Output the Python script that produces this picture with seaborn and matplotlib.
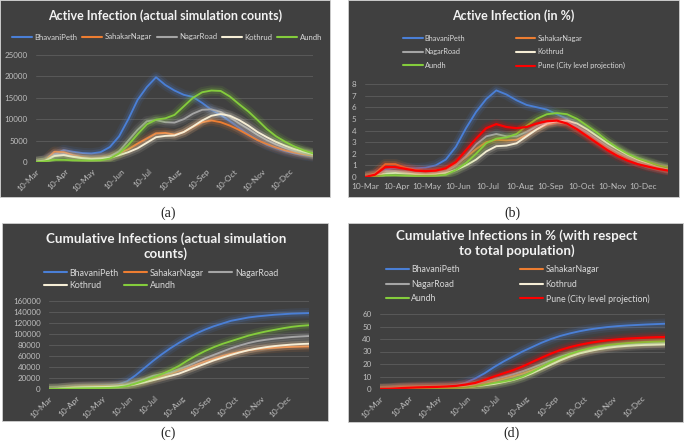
import numpy as np
import pandas as pd
import matplotlib
matplotlib.use("Agg")
import matplotlib.pyplot as plt
import matplotlib.dates as mdates
import matplotlib.patheffects as pe
from matplotlib.patches import Rectangle
import seaborn as sns

# sample dates: every 10 days from 10-Mar
dates = pd.date_range("2020-03-10", periods=31, freq="10D")
month_ticks = pd.date_range("2020-03-10", periods=10, freq=pd.DateOffset(months=1))

regions = ["BhavaniPeth", "SahakarNagar", "NagarRoad", "Kothrud", "Aundh"]
pune_label = "Pune (City level projection)"

# (a) active infections, counts
act_bhavani = [0, 500, 1800, 2800, 2400, 2100, 2000, 2300, 3500, 6000, 10000, 14500, 17500, 19800, 18000,
               16700, 15700, 15200, 13800, 12200, 11000, 9500, 8000, 6500, 5200, 4000, 3200, 2500, 2000, 1600, 1300]
act_sahakar = [0, 400, 2400, 2300, 1600, 1100, 900, 1000, 1300, 2000, 3000, 4300, 5500, 6700, 6800,
               6400, 7000, 8200, 9300, 9700, 9300, 8500, 7500, 6300, 5100, 4200, 3400, 2700, 2200, 1800, 1500]
act_nagar = [0, 300, 1700, 1800, 1300, 900, 800, 900, 1300, 2500, 5000, 7500, 9500, 9800, 9300,
             9200, 10000, 11300, 12200, 12300, 11700, 10500, 9000, 7700, 6300, 5100, 4100, 3300, 2600, 2100, 1700]
act_kothrud = [0, 300, 1400, 1600, 1200, 900, 700, 800, 1000, 1600, 2300, 3200, 4500, 5800, 6100,
               6200, 7000, 8300, 9700, 10800, 11200, 10800, 9800, 8500, 7000, 5800, 4700, 3800, 3000, 2400, 1900]
act_aundh = [0, 200, 500, 500, 400, 350, 350, 400, 800, 2000, 4000, 6500, 8800, 9900, 10200,
             11000, 13000, 15000, 16300, 16700, 16600, 15300, 13500, 11800, 9800, 7700, 6000, 4700, 3600, 2700, 2000]

# (b) active infections, %
pct_bhavani = [0, 0.2, 0.6, 0.8, 0.8, 0.75, 0.8, 1.0, 1.5, 2.6, 4.2, 5.6, 6.7, 7.45, 7.1,
               6.6, 6.2, 6.0, 5.8, 5.4, 5.0, 4.3, 3.7, 3.1, 2.5, 2.0, 1.6, 1.3, 1.0, 0.8, 0.6]
pct_sahakar = [0, 0.3, 1.1, 1.1, 0.8, 0.6, 0.5, 0.55, 0.7, 1.1, 1.7, 2.4, 3.0, 3.2, 3.15,
               3.2, 3.6, 4.1, 4.5, 4.7, 4.6, 4.1, 3.6, 3.0, 2.5, 2.0, 1.6, 1.3, 1.0, 0.8, 0.6]
pct_nagar = [0, 0.2, 0.5, 0.5, 0.45, 0.35, 0.3, 0.35, 0.5, 1.0, 1.8, 2.8, 3.5, 3.7, 3.5,
             3.5, 3.9, 4.4, 4.7, 4.8, 4.7, 4.3, 3.8, 3.2, 2.6, 2.1, 1.7, 1.3, 1.05, 0.85, 0.7]
pct_kothrud = [0, 0.1, 0.3, 0.35, 0.3, 0.25, 0.2, 0.25, 0.35, 0.6, 1.0, 1.5, 2.2, 2.65, 2.7,
               2.9, 3.5, 4.1, 4.6, 4.8, 4.85, 4.6, 4.1, 3.5, 2.9, 2.4, 1.9, 1.5, 1.2, 0.95, 0.75]
pct_aundh = [0, 0.05, 0.15, 0.15, 0.12, 0.1, 0.1, 0.12, 0.2, 0.6, 1.2, 2.0, 2.9, 3.3, 3.4,
             3.7, 4.4, 5.0, 5.4, 5.5, 5.4, 5.0, 4.4, 3.8, 3.1, 2.5, 2.0, 1.6, 1.3, 1.0, 0.8]
pct_pune = [0, 0.2, 0.85, 0.85, 0.7, 0.55, 0.5, 0.55, 0.75, 1.3, 2.3, 3.3, 4.2, 4.55, 4.3,
            4.2, 4.3, 4.6, 4.8, 4.85, 4.6, 4.1, 3.5, 2.9, 2.3, 1.8, 1.4, 1.1, 0.9, 0.7, 0.55]

# (c) cumulative infections, counts
cum_bhavani = [0, 500, 2000, 3500, 4500, 5200, 6000, 6800, 8500, 14000, 25000, 38000, 51000, 63000, 74000,
               84000, 93000, 101000, 108000, 114000, 119000, 124000, 127000, 130000, 132000, 133500, 135000,
               136000, 137000, 137500, 138000]
cum_sahakar = [0, 400, 2500, 4000, 4600, 5000, 5400, 5800, 6500, 8000, 10500, 14000, 18500, 23500, 28000,
               33000, 38000, 44000, 50000, 55000, 60000, 64000, 67500, 70500, 72500, 74000, 75000,
               76000, 76600, 77000, 77300]
cum_nagar = [0, 300, 1800, 3000, 3500, 3900, 4200, 4600, 5500, 8000, 12500, 18000, 24000, 27000, 30000,
             36000, 42000, 49000, 56000, 62000, 68000, 74000, 79000, 83500, 87000, 89500, 91500,
             93000, 94500, 95500, 96300]
cum_kothrud = [0, 300, 1500, 2500, 3000, 3300, 3600, 3900, 4500, 6000, 8500, 12000, 16000, 20000, 24000,
               28000, 34000, 40000, 46000, 52000, 57000, 62000, 66500, 70500, 73500, 76000, 78000,
               79500, 80800, 81700, 82300]
cum_aundh = [0, 200, 600, 1000, 1300, 1500, 1700, 2000, 3000, 5500, 10000, 15000, 21000, 27000, 34000,
             42000, 52000, 61000, 69000, 76000, 82000, 87000, 92000, 97000, 101000, 104500, 107500,
             110500, 113000, 114800, 116000]

# (d) cumulative infections, % of population
cpc_bhavani = [0, 0.3, 0.8, 1.3, 1.6, 1.8, 2.0, 2.3, 3.0, 5.0, 8.3, 12.5, 17.5, 22, 26,
               30, 33.5, 37, 40, 42.5, 44.5, 46.2, 47.6, 48.7, 49.6, 50.3, 50.8, 51.2, 51.6, 51.9, 52.2]
cpc_sahakar = [0, 0.3, 1.2, 1.6, 1.8, 1.9, 2.0, 2.1, 2.3, 2.8, 3.6, 4.8, 6.3, 8.3, 10.2,
               12.3, 15, 18, 21.2, 24.2, 27, 29.3, 31.2, 32.8, 34, 34.9, 35.6, 36.1, 36.5, 36.8, 37]
cpc_nagar = [0, 0.2, 0.6, 0.9, 1.0, 1.1, 1.2, 1.4, 1.8, 2.6, 4.0, 5.8, 7.8, 9.8, 11.8,
             14.2, 17, 20, 23, 25.8, 28.3, 30.3, 32, 33.3, 34.3, 35.1, 35.7, 36.2, 36.6, 36.9, 37.1]
cpc_kothrud = [0, 0.1, 0.4, 0.6, 0.7, 0.8, 0.9, 1.0, 1.2, 1.6, 2.2, 3.0, 4.0, 5.5, 7.2,
               9.5, 12.5, 16, 19.5, 23, 26, 28.5, 30.3, 31.8, 33, 33.9, 34.5, 35, 35.3, 35.5, 35.7]
cpc_aundh = [0, 0.05, 0.15, 0.25, 0.35, 0.4, 0.5, 0.6, 0.8, 1.3, 2.2, 3.5, 4.8, 6.0, 7.5,
             10, 13.5, 17.5, 21.5, 25, 28, 30.5, 32.5, 34, 35.2, 36, 36.7, 37.2, 37.6, 37.9, 38.1]
cpc_pune = [0, 0.2, 0.6, 1.0, 1.3, 1.5, 1.7, 2.0, 2.5, 3.5, 4.8, 7.2, 10, 12.5, 15,
            18, 21.5, 25, 28.3, 31.2, 33.5, 35.3, 36.8, 38, 39, 39.7, 40.3, 40.7, 41.1, 41.4, 41.6]

colors = {"BhavaniPeth": "#4A7FD6", "SahakarNagar": "#ED7D31", "NagarRoad": "#A5A5A5",
          "Kothrud": "#F6EED6", "Aundh": "#84CC3C", pune_label: "#FF0000"}

W, H = 685, 441
BG = "#404040"
GRID = "#595959"
TXT = "#BFBFBF"

sns.set_style("dark")
plt.rcParams["font.family"] = ["Lato", "DejaVu Sans"]

fig = plt.figure(figsize=(W / 100, H / 100), dpi=100)
fig.patch.set_facecolor("white")


def fbox(x0, y0, x1, y1):
    return [x0 / W, 1 - y1 / H, (x1 - x0) / W, (y1 - y0) / H]


def panel(x0, y0, x1, y1):
    fig.add_artist(Rectangle((x0 / W, 1 - y1 / H), (x1 - x0) / W, (y1 - y0) / H,
                             transform=fig.transFigure, facecolor=BG, edgecolor="#D0D0D0",
                             lw=0.6, zorder=-5))


def glow(line, c):
    line.set_path_effects([pe.Stroke(linewidth=7.5, foreground=c, alpha=0.10),
                           pe.Stroke(linewidth=4.5, foreground=c, alpha=0.18),
                           pe.Normal()])


def draw(box, series, ymax, ystep, rotate, title, title_xy, tsize, leg_order, leg_xy, ncol, lfs, colsp, labsp):
    ax = fig.add_axes(fbox(*box))
    ax.set_facecolor(BG)
    for name, vals in series:
        sns.lineplot(x=dates, y=vals, ax=ax, color=colors[name], lw=1.6 if name == pune_label else 1.35,
                     label=name, legend=False)
        glow(ax.lines[-1], colors[name])
    ax.set_xlim(dates[0], dates[-1])
    ax.set_ylim(0, ymax)
    ax.set_yticks(np.arange(0, ymax + 1, ystep))
    ax.yaxis.set_major_formatter(matplotlib.ticker.FuncFormatter(lambda v, p: f"{v:.0f}"))
    ax.set_xticks(month_ticks)
    ax.xaxis.set_major_formatter(mdates.DateFormatter("%d-%b"))
    ax.grid(axis="y", color=GRID, lw=0.7)
    ax.grid(axis="x", visible=False)
    for s in ax.spines.values():
        s.set_visible(False)
    ax.tick_params(axis="y", length=0, pad=6, labelsize=5.8, labelcolor=TXT)
    ax.tick_params(axis="x", length=0, pad=4, labelsize=6.0, labelcolor=TXT)
    if rotate:
        for lab in ax.get_xticklabels():
            lab.set_rotation(45)
            lab.set_ha("right")
            lab.set_va("top")
            lab.set_rotation_mode("anchor")
    ax.set_xlabel("")
    ax.set_ylabel("")
    fig.text(title_xy[0] / W, 1 - title_xy[1] / H, title, ha="center", va="center",
             fontsize=tsize, fontweight="bold", color="#F2F2F2", linespacing=1.2)
    handles = {l.get_label(): l for l in ax.lines}
    hs = [handles[n] for n in leg_order]
    leg = fig.legend(hs, leg_order, loc="center", bbox_to_anchor=(leg_xy[0] / W, 1 - leg_xy[1] / H),
                     ncol=ncol, frameon=False, fontsize=lfs, labelcolor="#D9D9D9", handlelength=2.6,
                     handletextpad=0.3, columnspacing=colsp, labelspacing=labsp, borderpad=0)
    for l in leg.get_lines():
        l.set_path_effects([pe.Normal()])
        l.set_linewidth(1.5)
    return ax


panel(0, 0, 330, 197)
panel(348, 0, 679, 197)
panel(2, 223, 328, 421)
panel(348, 223, 683, 422)

draw((36, 55, 313, 162),
     [("BhavaniPeth", act_bhavani), ("SahakarNagar", act_sahakar), ("NagarRoad", act_nagar),
      ("Kothrud", act_kothrud), ("Aundh", act_aundh)],
     25000, 5000, True, "Active Infection (actual simulation counts)", (165, 16), 9,
     regions, (167, 37), 5, 5.6, 0.6, 0.5)

draw((365, 84, 668, 177),
     [("BhavaniPeth", pct_bhavani), ("SahakarNagar", pct_sahakar), ("NagarRoad", pct_nagar),
      ("Kothrud", pct_kothrud), ("Aundh", pct_aundh), (pune_label, pct_pune)],
     8, 1, False, "Active Infection (in %)", (513, 16), 9,
     ["BhavaniPeth", "NagarRoad", "Aundh", "SahakarNagar", "Kothrud", pune_label], (514, 52), 2, 5.3, 6.9, 0.9)

draw((49, 301, 309, 389),
     [("BhavaniPeth", cum_bhavani), ("SahakarNagar", cum_sahakar), ("NagarRoad", cum_nagar),
      ("Kothrud", cum_kothrud), ("Aundh", cum_aundh)],
     160000, 20000, True, "Cumulative Infections (actual simulation\ncounts)", (166, 246), 9.6,
     ["BhavaniPeth", "Kothrud", "SahakarNagar", "Aundh", "NagarRoad"], (161, 279.5), 3, 6.4, 0.6, 0.45)

draw((380, 314, 665, 389),
     [("BhavaniPeth", cpc_bhavani), ("SahakarNagar", cpc_sahakar), ("NagarRoad", cpc_nagar),
      ("Kothrud", cpc_kothrud), ("Aundh", cpc_aundh), (pune_label, cpc_pune)],
     60, 10, True, "Cumulative Infections in % (with respect\nto total population)", (517, 243), 9.6,
     ["BhavaniPeth", "NagarRoad", "Aundh", "SahakarNagar", "Kothrud", pune_label], (517.5, 284.5), 2, 6.3, 6.9, 0.6)

for lab, x, y in [("(a)", 168, 213), ("(b)", 512, 213), ("(c)", 168, 433), ("(d)", 512, 433)]:
    fig.text(x / W, 1 - y / H, lab, ha="center", va="center", fontsize=10,
             family=["Liberation Serif", "DejaVu Serif"], color="#222222")

fig.savefig("out.png", dpi=100, facecolor="white")
